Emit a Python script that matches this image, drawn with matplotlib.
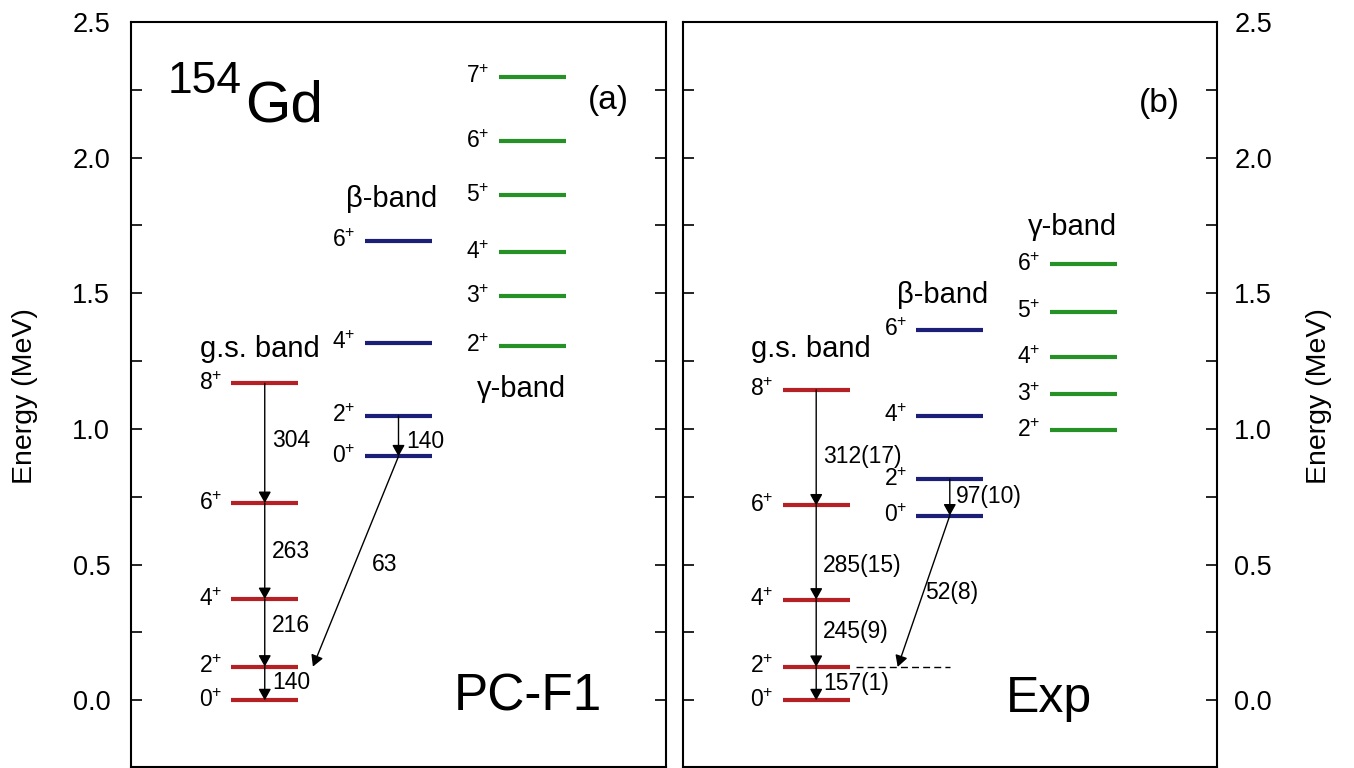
import matplotlib
matplotlib.use("Agg")
import matplotlib.pyplot as plt

plt.rcParams['font.family'] = ['Liberation Sans', 'DejaVu Sans']
plt.rcParams['mathtext.fontset'] = 'custom'
plt.rcParams['mathtext.rm'] = 'Liberation Sans'
plt.rcParams['mathtext.it'] = 'Liberation Sans:italic'
plt.rcParams['mathtext.bf'] = 'Liberation Sans:bold'

# ---------------- data (MeV) ----------------
gs_spins = [0, 2, 4, 6, 8]
beta_spins = [0, 2, 4, 6]
pcf1_gamma_spins = [2, 3, 4, 5, 6, 7]
exp_gamma_spins = [2, 3, 4, 5, 6]

pcf1_gs_E = [0.0, 0.124, 0.373, 0.727, 1.168]
pcf1_beta_E = [0.899, 1.048, 1.317, 1.694]
pcf1_gamma_E = [1.307, 1.489, 1.652, 1.861, 2.060, 2.299]

exp_gs_E = [0.0, 0.123, 0.371, 0.718, 1.144]
exp_beta_E = [0.681, 0.815, 1.048, 1.366]
exp_gamma_E = [0.996, 1.128, 1.264, 1.432, 1.607]

# B(E2) labels (W.u.)
pcf1_gs_be2 = ['140', '216', '263', '304']
pcf1_beta_be2 = '140'
pcf1_cross_be2 = '63'
exp_gs_be2 = ['157(1)', '245(9)', '285(15)', '312(17)']
exp_beta_be2 = '97(10)'
exp_cross_be2 = '52(8)'

# ---------------- style ----------------
RED = '#B52025'
NAVY = '#1C1F78'
GREEN = '#269126'
GS_X = (1.5, 2.5)
BETA_X = (3.5, 4.5)
GAM_X = (5.5, 6.5)

fig = plt.figure(figsize=(13.54, 7.68), dpi=100)
W, H = 1354, 768
axL = fig.add_axes([131 / W, 1 - 767 / H, 535 / W, 745 / H])
axR = fig.add_axes([682.6 / W, 1 - 767 / H, 534.4 / W, 745 / H])

ARROW = dict(arrowstyle='-|>,head_length=0.45,head_width=0.25', mutation_scale=15,
             lw=1.0, color='black', shrinkA=0, shrinkB=0)


def spin_label(ax, x, E, J):
    ax.text(x - 0.14, E, f'{J}$^{{+}}$', fontsize=16.5, ha='right', va='center')


def draw_band(ax, E, spins, xr, color):
    ax.hlines(E, xr[0], xr[1], colors=color, lw=3)
    for e, j in zip(E, spins):
        spin_label(ax, xr[0], e, j)


def arrow(ax, x0, y0, x1, y1):
    ax.annotate('', xy=(x1, y1), xytext=(x0, y0), arrowprops=ARROW)


def setup_axes(ax, right):
    ax.set_xlim(0, 8)
    ax.set_ylim(-0.246, 2.5)
    ax.set_xticks([])
    ax.set_yticks([0.0, 0.5, 1.0, 1.5, 2.0, 2.5])
    ax.set_yticks([0.25, 0.75, 1.25, 1.75, 2.25], minor=True)
    ax.yaxis.set_major_formatter(matplotlib.ticker.FormatStrFormatter('%.1f'))
    ax.tick_params(axis='y', which='both', direction='in', left=True, right=True,
                   length=8, width=1.2, labelsize=19.5,
                   labelleft=not right, labelright=right,
                   pad=12.5 if right else 15)
    for s in ax.spines.values():
        s.set_linewidth(1.5)


for ax, right in ((axL, False), (axR, True)):
    setup_axes(ax, right)

# ---------------- panel (a) PC-F1 ----------------
ax = axL
draw_band(ax, pcf1_gs_E, gs_spins, GS_X, RED)
draw_band(ax, pcf1_beta_E, beta_spins, BETA_X, NAVY)
draw_band(ax, pcf1_gamma_E, pcf1_gamma_spins, GAM_X, GREEN)
xc = sum(GS_X) / 2
for i in range(len(pcf1_gs_E) - 1, 0, -1):
    arrow(ax, xc, pcf1_gs_E[i], xc, pcf1_gs_E[i - 1])
lab_y = [0.064, 0.274, 0.550, 0.959]
for t, y in zip(pcf1_gs_be2, lab_y):
    ax.text(2.11, y, t, fontsize=16.5, ha='left', va='center')
xb = sum(BETA_X) / 2
arrow(ax, xb, pcf1_beta_E[1], xb, pcf1_beta_E[0])
ax.text(4.12, 0.952, pcf1_beta_be2, fontsize=16.5, ha='left', va='center')
arrow(ax, xb, pcf1_beta_E[0], 2.72, pcf1_gs_E[1])
ax.text(3.60, 0.499, pcf1_cross_be2, fontsize=16.5, ha='left', va='center')

ax.text(0.553, 2.237, '154', fontsize=32, ha='left', va='baseline')
ax.text(1.70, 2.133, 'Gd', fontsize=42, ha='left', va='baseline')
ax.text(7.14, 2.209, '(a)', fontsize=24, ha='center', va='center')
ax.text(4.574, 1.817, 'β-band', fontsize=21, ha='right', va='baseline')
ax.text(2.825, 1.264, 'g.s. band', fontsize=21, ha='right', va='baseline')
ax.text(6.50, 1.119, 'γ-band', fontsize=21, ha='right', va='baseline')
ax.text(4.83, -0.038, 'PC-F1', fontsize=37, ha='left', va='baseline')

# ---------------- panel (b) Exp ----------------
ax = axR
draw_band(ax, exp_gs_E, gs_spins, GS_X, RED)
draw_band(ax, exp_beta_E, beta_spins, BETA_X, NAVY)
draw_band(ax, exp_gamma_E, exp_gamma_spins, GAM_X, GREEN)
for i in range(len(exp_gs_E) - 1, 0, -1):
    arrow(ax, xc, exp_gs_E[i], xc, exp_gs_E[i - 1])
lab_y = [0.060, 0.252, 0.495, 0.898]
for t, y in zip(exp_gs_be2, lab_y):
    ax.text(2.10, y, t, fontsize=16.5, ha='left', va='center')
arrow(ax, xb, exp_beta_E[1], xb, exp_beta_E[0])
ax.text(4.09, 0.750, exp_beta_be2, fontsize=16.5, ha='left', va='center')
ax.hlines(exp_gs_E[1], 2.6, 4.0, colors='black', lw=1.0, linestyles=(0, (5, 3)))
arrow(ax, xb, exp_beta_E[0], 3.22, exp_gs_E[1])
ax.text(3.63, 0.396, exp_cross_be2, fontsize=16.5, ha='left', va='center')

ax.text(7.14, 2.20, '(b)', fontsize=24, ha='center', va='center')
ax.text(6.51, 1.715, 'γ-band', fontsize=21, ha='right', va='baseline')
ax.text(4.57, 1.463, 'β-band', fontsize=21, ha='right', va='baseline')
ax.text(2.816, 1.264, 'g.s. band', fontsize=21, ha='right', va='baseline')
ax.text(4.846, -0.042, 'Exp', fontsize=36, ha='left', va='baseline')

# y labels
fig.text(25 / W, 1 - 396 / H, 'Energy (MeV)', fontsize=20.5, rotation=90,
         ha='center', va='center')
fig.text(1319 / W, 1 - 396 / H, 'Energy (MeV)', fontsize=20.5, rotation=90,
         ha='center', va='center')

fig.savefig('out.png', dpi=100)
